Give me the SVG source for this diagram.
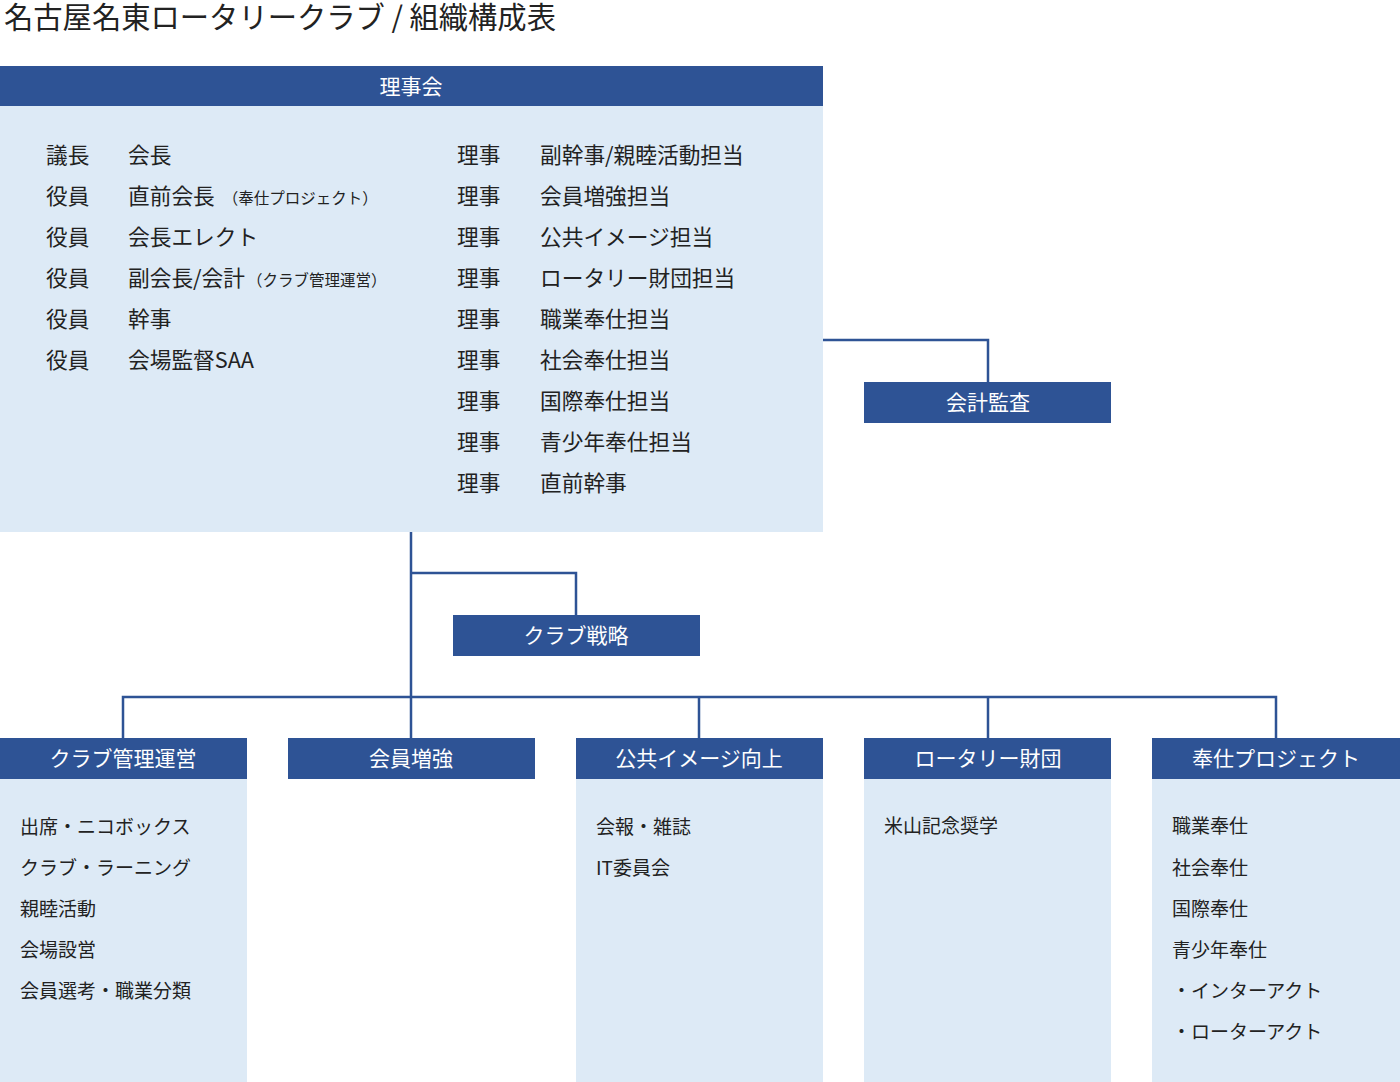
<svg xmlns="http://www.w3.org/2000/svg" width="1400" height="1082" viewBox="0 0 1400 1082">
<style>
text{font-family:"Noto Sans CJK JP","Noto Sans",sans-serif;fill:#222}
.hd{fill:#2e5395}.bd{fill:#ddeaf6}
.ht{fill:#fff;font-size:21px;text-anchor:middle}
.t{font-size:21.7px}.s{font-size:15.5px}.l{font-size:19px}
.c{fill:none;stroke:#2e5395;stroke-width:2.5}
</style>
<rect width="1400" height="1082" fill="#fff"/>
<text x="4" y="28" style="font-size:29.3px">名古屋名東ロータリークラブ / 組織構成表</text>
<g id="connectors">
<path class="c" d="M823 340H988V382"/>
<path class="c" d="M411 532V738M411 573H576V615"/>
<path class="c" d="M123 738V697H1276V738M699 697V738M988 697V738"/>
</g>
<g id="board">
<rect class="bd" x="0" y="106" width="823" height="426"/>
<rect class="hd" x="0" y="66" width="823" height="40"/>
<text class="ht" x="411" y="94">理事会</text>
<g class="t">
<text x="46" y="163">議長</text><text x="128" y="163">会長</text>
<text x="46" y="204">役員</text><text x="128" y="204">直前会長<tspan class="s" dx="8">（奉仕プロジェクト）</tspan></text>
<text x="46" y="245">役員</text><text x="128" y="245">会長エレクト</text>
<text x="46" y="286">役員</text><text x="128" y="286">副会長/会計<tspan class="s" dx="2">（クラブ管理運営）</tspan></text>
<text x="46" y="327">役員</text><text x="128" y="327">幹事</text>
<text x="46" y="368">役員</text><text x="128" y="368">会場監督SAA</text>
<text x="457" y="163">理事</text><text x="540" y="163">副幹事/親睦活動担当</text>
<text x="457" y="204">理事</text><text x="540" y="204">会員増強担当</text>
<text x="457" y="245">理事</text><text x="540" y="245">公共イメージ担当</text>
<text x="457" y="286">理事</text><text x="540" y="286">ロータリー財団担当</text>
<text x="457" y="327">理事</text><text x="540" y="327">職業奉仕担当</text>
<text x="457" y="368">理事</text><text x="540" y="368">社会奉仕担当</text>
<text x="457" y="409">理事</text><text x="540" y="409">国際奉仕担当</text>
<text x="457" y="450">理事</text><text x="540" y="450">青少年奉仕担当</text>
<text x="457" y="491">理事</text><text x="540" y="491">直前幹事</text>
</g>
</g>
<g id="audit"><rect class="hd" x="864" y="382" width="247" height="41"/><text class="ht" x="988" y="410">会計監査</text></g>
<g id="strategy"><rect class="hd" x="453" y="615" width="247" height="41"/><text class="ht" x="576" y="643">クラブ戦略</text></g>
<g id="club-admin"><rect class="bd" x="0" y="778" width="247" height="304"/><rect class="hd" x="0" y="738" width="247" height="41"/><text class="ht" x="123" y="766">クラブ管理運営</text>
<g class="l"><text x="20" y="834">出席・ニコボックス</text><text x="20" y="875">クラブ・ラーニング</text><text x="20" y="916">親睦活動</text><text x="20" y="957">会場設営</text><text x="20" y="998">会員選考・職業分類</text></g></g>
<g id="membership"><rect class="hd" x="288" y="738" width="247" height="41"/><text class="ht" x="411" y="766">会員増強</text></g>
<g id="public-image"><rect class="bd" x="576" y="778" width="247" height="304"/><rect class="hd" x="576" y="738" width="247" height="41"/><text class="ht" x="699" y="766">公共イメージ向上</text>
<g class="l"><text x="596" y="834">会報・雑誌</text><text x="596" y="875">IT委員会</text></g></g>
<g id="foundation"><rect class="bd" x="864" y="778" width="247" height="304"/><rect class="hd" x="864" y="738" width="247" height="41"/><text class="ht" x="988" y="766">ロータリー財団</text>
<g class="l"><text x="884" y="833">米山記念奨学</text></g></g>
<g id="service"><rect class="bd" x="1152" y="778" width="248" height="304"/><rect class="hd" x="1152" y="738" width="248" height="41"/><text class="ht" x="1276" y="766">奉仕プロジェクト</text>
<g class="l"><text x="1172" y="833">職業奉仕</text><text x="1172" y="875">社会奉仕</text><text x="1172" y="916">国際奉仕</text><text x="1172" y="957">青少年奉仕</text><text x="1172" y="998">・インターアクト</text><text x="1172" y="1039">・ローターアクト</text></g></g>
</svg>
